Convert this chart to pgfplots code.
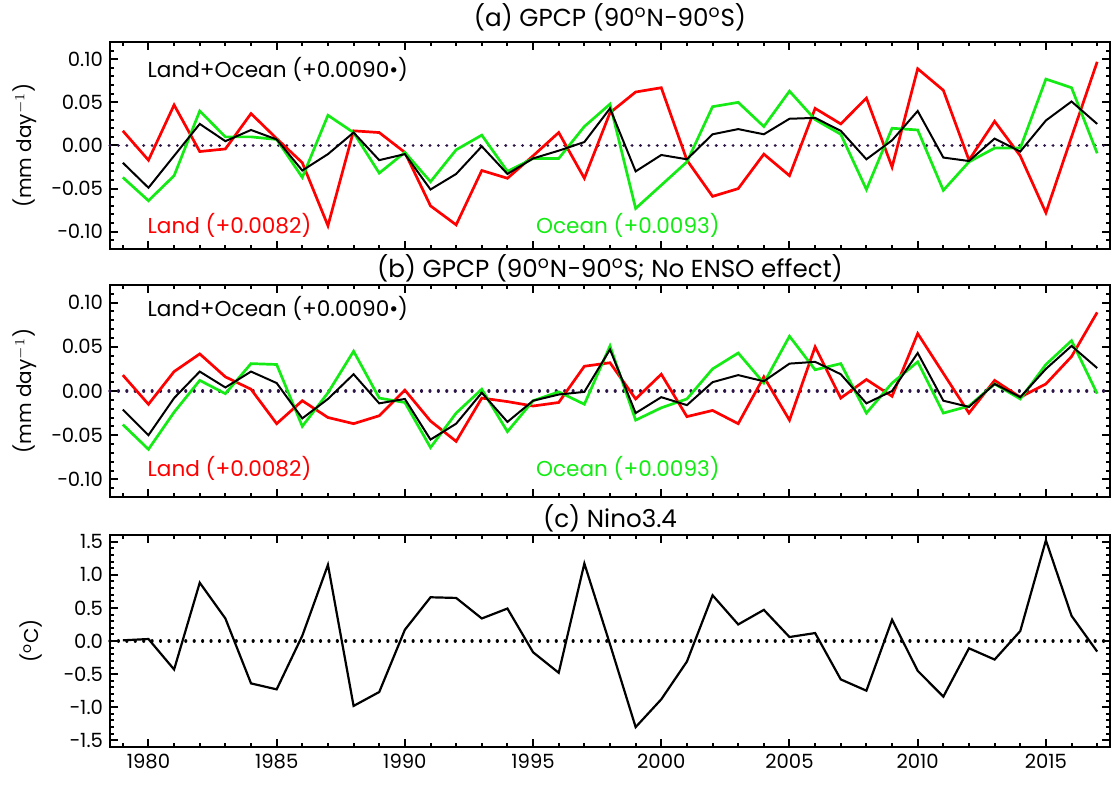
\documentclass[border=0pt]{standalone}
\usepackage{fontspec}
\setmainfont{Poppins}
\usepackage{pgfplots}
\pgfplotsset{compat=1.18}
\definecolor{idlred}{RGB}{255,0,0}
\definecolor{idlgreen}{RGB}{20,235,20}
\definecolor{zeroline}{RGB}{45,20,70}

\tikzset{
  note/.style={anchor=west, font=\fontsize{10.8}{12}\selectfont, inner sep=0pt},
  ttl/.style={font=\fontsize{12.3}{14}\selectfont},
}
\pgfplotsset{
  idl/.style={
    scale only axis, width=500pt,
    xmin=1978.5, xmax=2017.5,
    xtick={1980,1985,...,2015}, minor xtick={1979,1980,...,2017},
    tick align=inside, major tick length=3.8pt, minor tick length=2pt,
    axis line style={line width=1.1pt},
    every tick/.style={black, line width=1pt},
    tick label style={font=\fontsize{9.8}{11}\selectfont},
    label style={font=\fontsize{10}{12}\selectfont},
    clip=false,
  },
  mmaxis/.style={
    idl, ymin=-0.12, ymax=0.12,
    ytick={-0.1,-0.05,0,0.05,0.1},
    yticklabels={−0.10,−0.05,0.00,0.05,0.10},
    minor ytick={-0.11,-0.09,-0.08,-0.07,-0.06,-0.04,-0.03,-0.02,-0.01,0.01,0.02,0.03,0.04,0.06,0.07,0.08,0.09,0.11},
    xticklabels={},
    ylabel={(mm day$^{-1}$)},
    ylabel style={at={(axis description cs:-0.085,0.5)}, anchor=center},
  },
  land/.style={idlred, line width=1.35pt},
  ocean/.style={idlgreen, line width=1.35pt},
  both/.style={black, line width=1pt},
  zero/.style={zeroline, line width=1.6pt, dash pattern=on 0.01pt off 4.2pt, line cap=round},
}

\begin{document}
\begin{tikzpicture}
% (a)
\begin{axis}[mmaxis, height=103.5pt, at={(55pt,-21pt)}, anchor=north west]
\addplot[zero] coordinates {(1978.5,0) (2017.5,0)};
\addplot[land] coordinates {
(1979,0.017) (1980,-0.017) (1981,0.047) (1982,-0.007) (1983,-0.004) (1984,0.037)
(1985,0.008) (1986,-0.020) (1987,-0.093) (1988,0.017) (1989,0.015) (1990,-0.008)
(1991,-0.070) (1992,-0.092) (1993,-0.029) (1994,-0.038) (1995,-0.012) (1996,0.015)
(1997,-0.038) (1998,0.038) (1999,0.062) (2000,0.067) (2001,-0.017) (2002,-0.059)
(2003,-0.050) (2004,-0.010) (2005,-0.035) (2006,0.043) (2007,0.025) (2008,0.055)
(2009,-0.025) (2010,0.089) (2011,0.064) (2012,-0.017) (2013,0.028) (2014,-0.012)
(2015,-0.078) (2016,0.010) (2017,0.097)};
\addplot[ocean] coordinates {
(1979,-0.037) (1980,-0.064) (1981,-0.035) (1982,0.040) (1983,0.010) (1984,0.010)
(1985,0.007) (1986,-0.037) (1987,0.035) (1988,0.015) (1989,-0.032) (1990,-0.008)
(1991,-0.042) (1992,-0.005) (1993,0.012) (1994,-0.030) (1995,-0.015) (1996,-0.015)
(1997,0.022) (1998,0.048) (1999,-0.073) (2000,-0.046) (2001,-0.019) (2002,0.045)
(2003,0.050) (2004,0.022) (2005,0.063) (2006,0.030) (2007,0.013) (2008,-0.051)
(2009,0.020) (2010,0.018) (2011,-0.052) (2012,-0.019) (2013,-0.003) (2014,-0.003)
(2015,0.077) (2016,0.067) (2017,-0.009)};
\addplot[both] coordinates {
(1979,-0.020) (1980,-0.049) (1981,-0.012) (1982,0.025) (1983,0.005) (1984,0.018)
(1985,0.007) (1986,-0.029) (1987,-0.010) (1988,0.015) (1989,-0.017) (1990,-0.010)
(1991,-0.051) (1992,-0.033) (1993,-0.001) (1994,-0.033) (1995,-0.015) (1996,-0.006)
(1997,0.004) (1998,0.043) (1999,-0.030) (2000,-0.011) (2001,-0.016) (2002,0.013)
(2003,0.019) (2004,0.013) (2005,0.031) (2006,0.032) (2007,0.017) (2008,-0.016)
(2009,0.006) (2010,0.040) (2011,-0.014) (2012,-0.018) (2013,0.008) (2014,-0.007)
(2015,0.029) (2016,0.051) (2017,0.025)};
\node[note] at (axis cs:1979.95,0.088) {Land+Ocean (+0.0090•)};
\node[note, idlred] at (axis cs:1979.95,-0.093) {Land (+0.0082)};
\node[note, idlgreen] at (axis cs:1995.1,-0.093) {Ocean (+0.0093)};
\node[ttl] at (rel axis cs:0.5,1.12) {(a) GPCP (90\textsuperscript{o}N−90\textsuperscript{o}S)};
\end{axis}
% (b)
\begin{axis}[mmaxis, height=106pt, at={(55pt,-142.5pt)}, anchor=north west]
\addplot[zero] coordinates {(1978.5,0) (2017.5,0)};
\addplot[land] coordinates {
(1979,0.018) (1980,-0.015) (1981,0.022) (1982,0.042) (1983,0.016) (1984,0.002)
(1985,-0.037) (1986,-0.011) (1987,-0.030) (1988,-0.037) (1989,-0.028) (1990,0.001)
(1991,-0.034) (1992,-0.057) (1993,-0.008) (1994,-0.012) (1995,-0.017) (1996,-0.013)
(1997,0.028) (1998,0.032) (1999,-0.009) (2000,0.019) (2001,-0.029) (2002,-0.022)
(2003,-0.037) (2004,0.016) (2005,-0.033) (2006,0.050) (2007,-0.008) (2008,0.013)
(2009,-0.006) (2010,0.065) (2011,0.020) (2012,-0.025) (2013,0.012) (2014,-0.007)
(2015,0.008) (2016,0.039) (2017,0.089)};
\addplot[ocean] coordinates {
(1979,-0.038) (1980,-0.066) (1981,-0.024) (1982,0.012) (1983,-0.003) (1984,0.031)
(1985,0.030) (1986,-0.040) (1987,-0.002) (1988,0.045) (1989,-0.008) (1990,-0.013)
(1991,-0.064) (1992,-0.025) (1993,0.002) (1994,-0.046) (1995,-0.011) (1996,-0.001)
(1997,-0.015) (1998,0.051) (1999,-0.033) (2000,-0.019) (2001,-0.009) (2002,0.025)
(2003,0.043) (2004,0.009) (2005,0.062) (2006,0.024) (2007,0.031) (2008,-0.025)
(2009,0.009) (2010,0.033) (2011,-0.025) (2012,-0.017) (2013,0.008) (2014,-0.009)
(2015,0.030) (2016,0.057) (2017,-0.003)};
\addplot[both] coordinates {
(1979,-0.021) (1980,-0.050) (1981,-0.008) (1982,0.022) (1983,0.004) (1984,0.022)
(1985,0.009) (1986,-0.031) (1987,-0.009) (1988,0.019) (1989,-0.014) (1990,-0.009)
(1991,-0.055) (1992,-0.037) (1993,-0.002) (1994,-0.035) (1995,-0.011) (1996,-0.004)
(1997,-0.001) (1998,0.047) (1999,-0.025) (2000,-0.007) (2001,-0.016) (2002,0.010)
(2003,0.018) (2004,0.011) (2005,0.031) (2006,0.033) (2007,0.019) (2008,-0.014)
(2009,0.000) (2010,0.043) (2011,-0.011) (2012,-0.018) (2013,0.008) (2014,-0.007)
(2015,0.025) (2016,0.051) (2017,0.026)};
\node[note] at (axis cs:1979.95,0.093) {Land+Ocean (+0.0090•)};
\node[note, idlred] at (axis cs:1979.95,-0.088) {Land (+0.0082)};
\node[note, idlgreen] at (axis cs:1995.1,-0.088) {Ocean (+0.0093)};
\node[ttl] at (rel axis cs:0.5,1.08) {(b) GPCP (90\textsuperscript{o}N−90\textsuperscript{o}S; No ENSO effect)};
\end{axis}
% (c)
\begin{axis}[idl, height=106pt, at={(55pt,-267.5pt)}, anchor=north west,
  ymin=-1.6, ymax=1.6,
  ytick={-1.5,-1,-0.5,0,0.5,1,1.5},
  yticklabels={−1.5,−1.0,−0.5,0.0,0.5,1.0,1.5},
  minor y tick num=4,
  xticklabels={1980,1985,1990,1995,2000,2005,2010,2015},
  ylabel={(\textsuperscript{o}C)},
  ylabel style={at={(axis description cs:-0.079,0.5)}, anchor=center}]
\addplot[black, line width=1.6pt, dash pattern=on 0.01pt off 4.2pt, line cap=round] coordinates {(1978.5,0) (2017.5,0)};
\addplot[black, line width=1.1pt] coordinates {
(1979,0.01) (1980,0.03) (1981,-0.43) (1982,0.88) (1983,0.34) (1984,-0.64)
(1985,-0.73) (1986,0.08) (1987,1.15) (1988,-0.98) (1989,-0.77) (1990,0.17)
(1991,0.66) (1992,0.65) (1993,0.34) (1994,0.49) (1995,-0.17) (1996,-0.48)
(1997,1.17) (1998,-0.05) (1999,-1.30) (2000,-0.88) (2001,-0.31) (2002,0.69)
(2003,0.25) (2004,0.47) (2005,0.06) (2006,0.12) (2007,-0.58) (2008,-0.75)
(2009,0.32) (2010,-0.45) (2011,-0.84) (2012,-0.11) (2013,-0.28) (2014,0.15)
(2015,1.52) (2016,0.38) (2017,-0.16)};
\node[ttl] at (rel axis cs:0.5,1.08) {(c) Nino3.4};
\end{axis}
\pgfresetboundingbox
\path (0,0) rectangle (558.5pt,-392.5pt);
\end{tikzpicture}
\end{document}
